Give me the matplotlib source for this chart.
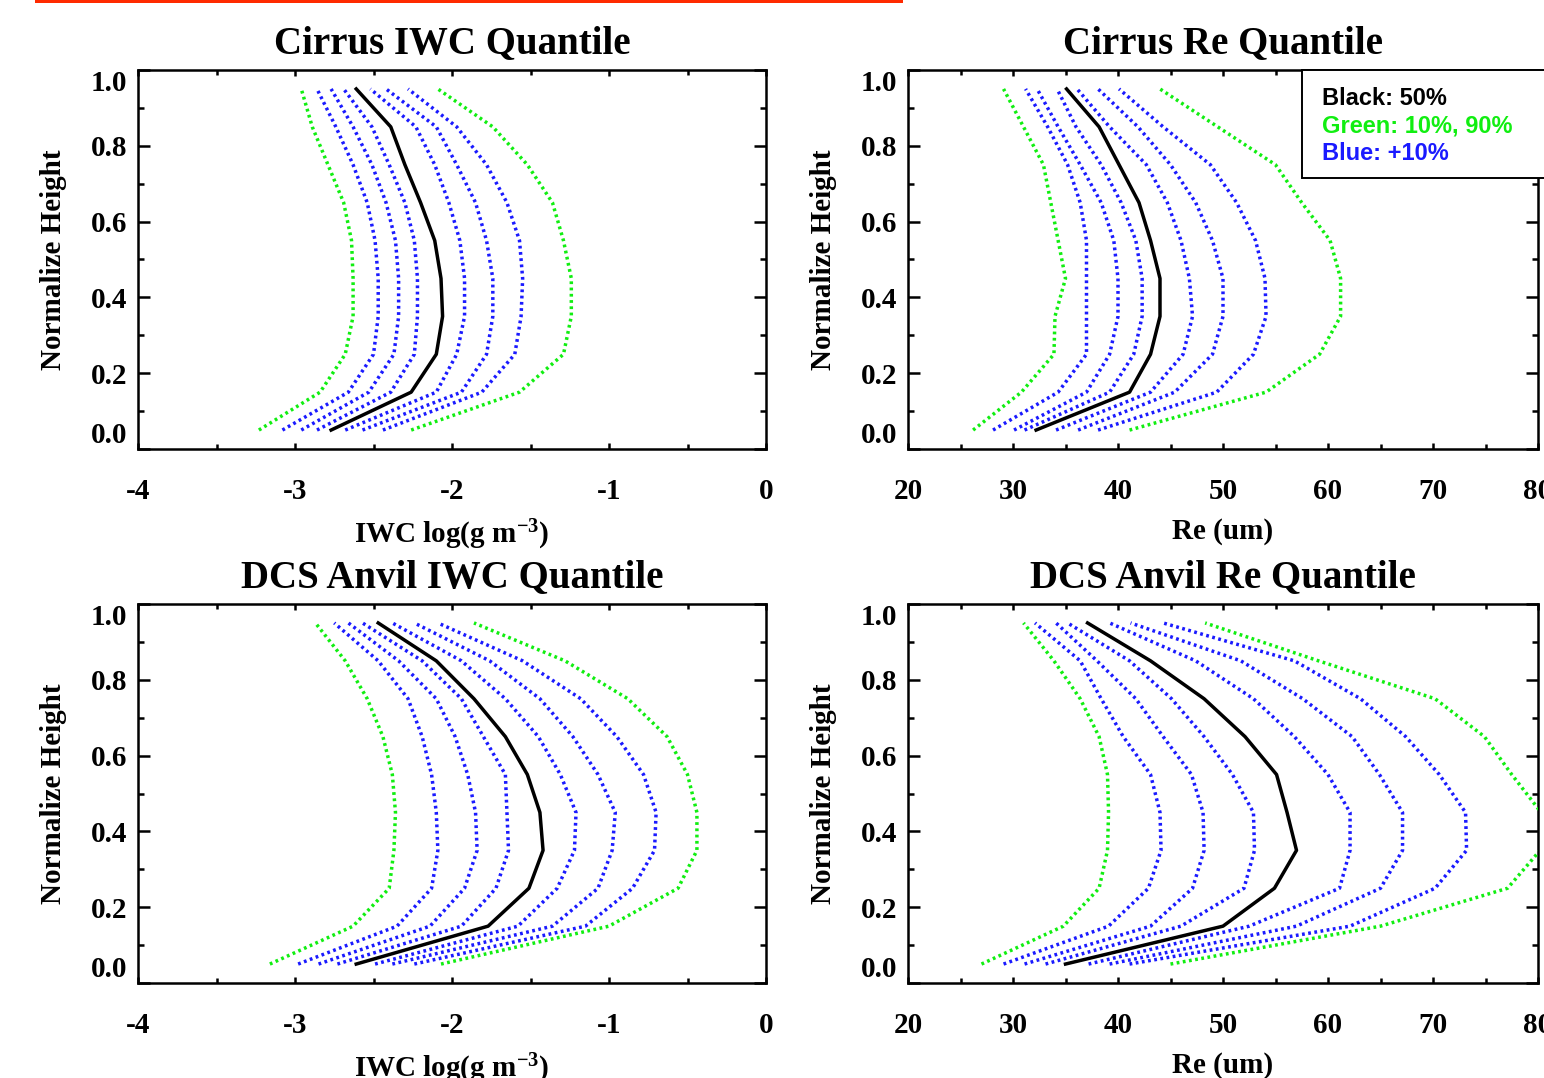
import matplotlib
matplotlib.use("Agg")
from matplotlib import pyplot as plt
from matplotlib.patches import Rectangle
from matplotlib.ticker import MultipleLocator

# normalized height levels (bin centres)
height = [0.05, 0.15, 0.25, 0.35, 0.45, 0.55, 0.65, 0.75, 0.85, 0.95]
quantiles = [10, 20, 30, 40, 50, 60, 70, 80, 90]

# Cirrus IWC, log(g m-3), one row per quantile, bottom -> top
cirrus_iwc = [
    [-3.23, -2.84, -2.68, -2.63, -2.63, -2.64, -2.69, -2.79, -2.89, -2.96],
    [-3.08, -2.66, -2.50, -2.47, -2.47, -2.49, -2.54, -2.63, -2.74, -2.86],
    [-2.96, -2.53, -2.37, -2.34, -2.34, -2.36, -2.42, -2.51, -2.63, -2.77],
    [-2.86, -2.39, -2.24, -2.22, -2.22, -2.24, -2.30, -2.40, -2.51, -2.69],
    [-2.77, -2.26, -2.10, -2.06, -2.07, -2.11, -2.20, -2.30, -2.39, -2.61],
    [-2.68, -2.10, -1.97, -1.92, -1.92, -1.95, -2.02, -2.11, -2.23, -2.52],
    [-2.57, -1.94, -1.78, -1.74, -1.74, -1.78, -1.85, -1.97, -2.10, -2.42],
    [-2.44, -1.81, -1.60, -1.56, -1.55, -1.57, -1.65, -1.78, -1.97, -2.28],
    [-2.26, -1.57, -1.29, -1.24, -1.24, -1.29, -1.36, -1.52, -1.74, -2.09],
]

# Cirrus Re (um)
cirrus_re = [
    [26.2, 30.8, 33.9, 34.0, 35.0, 34.3, 33.6, 32.9, 31.0, 29.1],
    [28.1, 34.3, 37.0, 37.0, 37.0, 37.0, 36.4, 35.2, 33.3, 31.2],
    [30.1, 37.0, 39.2, 40.0, 40.0, 39.6, 38.4, 36.4, 34.3, 32.3],
    [31.1, 39.2, 41.5, 42.3, 42.3, 41.7, 40.3, 38.4, 36.0, 34.2],
    [32.2, 41.1, 43.1, 44.0, 44.0, 43.1, 42.0, 40.1, 38.2, 35.1],
    [34.1, 43.1, 46.2, 47.1, 46.8, 46.0, 44.7, 42.7, 39.2, 36.1],
    [36.2, 45.4, 49.0, 50.0, 50.0, 49.0, 47.4, 45.0, 41.9, 38.1],
    [38.1, 49.4, 52.9, 54.1, 54.0, 53.1, 51.3, 48.8, 44.3, 40.1],
    [41.1, 54.1, 59.2, 61.2, 61.2, 60.2, 57.5, 55.0, 49.5, 44.0],
]

# DCS anvil IWC
anvil_iwc = [
    [-3.16, -2.63, -2.40, -2.37, -2.36, -2.38, -2.44, -2.54, -2.68, -2.87],
    [-2.98, -2.35, -2.13, -2.09, -2.10, -2.13, -2.19, -2.28, -2.47, -2.75],
    [-2.85, -2.14, -1.92, -1.84, -1.85, -1.90, -1.98, -2.10, -2.34, -2.66],
    [-2.73, -1.94, -1.72, -1.64, -1.65, -1.66, -1.80, -1.94, -2.19, -2.57],
    [-2.61, -1.77, -1.51, -1.42, -1.44, -1.52, -1.66, -1.86, -2.10, -2.47],
    [-2.49, -1.58, -1.33, -1.22, -1.21, -1.31, -1.45, -1.66, -1.94, -2.38],
    [-2.38, -1.36, -1.07, -0.98, -0.96, -1.07, -1.23, -1.44, -1.76, -2.24],
    [-2.24, -1.15, -0.85, -0.71, -0.70, -0.78, -0.95, -1.18, -1.55, -2.09],
    [-2.07, -1.00, -0.56, -0.44, -0.44, -0.50, -0.63, -0.88, -1.28, -1.86],
]

# DCS anvil Re (um)
anvil_re = [
    [27.0, 34.8, 38.2, 39.0, 39.1, 39.0, 38.2, 36.4, 33.9, 31.0],
    [29.1, 39.1, 42.9, 44.1, 44.0, 43.1, 40.5, 38.4, 36.4, 32.1],
    [31.1, 43.1, 47.1, 48.2, 48.1, 47.0, 44.3, 41.7, 38.0, 34.1],
    [33.1, 46.0, 52.0, 53.0, 52.9, 50.9, 48.2, 45.1, 41.1, 35.2],
    [35.0, 50.0, 54.9, 57.0, 56.1, 55.1, 52.1, 48.2, 43.1, 37.1],
    [37.2, 52.5, 61.1, 62.1, 62.1, 60.0, 56.8, 52.9, 47.4, 39.2],
    [39.2, 57.0, 65.0, 67.1, 67.1, 64.9, 62.3, 57.6, 51.7, 41.2],
    [41.1, 62.1, 70.2, 73.2, 73.1, 70.6, 67.4, 63.1, 56.8, 44.3],
    [45.0, 65.0, 77.1, 80.2, 80.3, 77.5, 74.9, 70.2, 59.1, 48.3],
]

titles = ["Cirrus IWC Quantile", "Cirrus Re Quantile",
          "DCS Anvil IWC Quantile", "DCS Anvil Re Quantile"]
iwc_label = r"IWC log(g m$^{\mathbf{-3}}$)"
re_label = "Re (um)"

GREEN = "#11ee11"
BLUE = "#1a1aff"

plt.rcParams["font.family"] = "Liberation Serif"
plt.rcParams["font.weight"] = "bold"
plt.rcParams["axes.labelweight"] = "bold"
plt.rcParams["axes.titleweight"] = "bold"
plt.rcParams["mathtext.fontset"] = "custom"
plt.rcParams["mathtext.rm"] = "Liberation Serif:bold"
plt.rcParams["mathtext.bf"] = "Liberation Serif:bold"
plt.rcParams["mathtext.it"] = "Liberation Serif:bold"
plt.rcParams["axes.linewidth"] = 1.8

W, H = 1544, 1078
fig = plt.figure(figsize=(W / 100, H / 100), dpi=100)


def px_axes(left, right, top, bottom):
    return fig.add_axes([left / W, 1 - bottom / H, (right - left) / W, (bottom - top) / H])


panels = [
    (px_axes(138, 766, 70, 449), cirrus_iwc, "iwc", titles[0]),
    (px_axes(908, 1538, 70, 449), cirrus_re, "re", titles[1]),
    (px_axes(138, 766, 604, 983), anvil_iwc, "iwc", titles[2]),
    (px_axes(908, 1538, 604, 983), anvil_re, "re", titles[3]),
]

for ax, series, kind, title in panels:
    for q, xs in zip(quantiles, series):
        if q == 50:
            ax.plot(xs, height, color="black", lw=2.5, zorder=4)
        else:
            color = GREEN if q in (10, 90) else BLUE
            ax.plot(xs, height, color=color, lw=2.5,
                    linestyle=(0, (0.8, 1.0)), zorder=3)

    ax.set_ylim(0, 1)
    ax.yaxis.set_major_locator(MultipleLocator(0.2))
    ax.yaxis.set_minor_locator(MultipleLocator(0.1))
    if kind == "iwc":
        ax.set_xlim(-4, 0)
        ax.xaxis.set_major_locator(MultipleLocator(1))
        ax.xaxis.set_minor_locator(MultipleLocator(0.5))
        ax.set_xticks([-4, -3, -2, -1, 0])
        ax.set_xticklabels(["-4", "-3", "-2", "-1", "0"])
        ax.set_xlabel(iwc_label, fontsize=21, labelpad=9)
    else:
        ax.set_xlim(20, 80)
        ax.xaxis.set_major_locator(MultipleLocator(10))
        ax.xaxis.set_minor_locator(MultipleLocator(5))
        ax.set_xlabel(re_label, fontsize=21, labelpad=9)
    ax.set_yticks([0, 0.2, 0.4, 0.6, 0.8, 1.0])
    ax.set_yticklabels(["0.0", "0.2", "0.4", "0.6", "0.8", "1.0"])
    labels = ax.get_yticklabels()
    labels[0].set_verticalalignment("bottom")
    labels[-1].set_verticalalignment("top")

    ax.tick_params(which="both", direction="in", top=True, right=True,
                   width=1.8, labelsize=21)
    ax.tick_params(axis="x", which="major", length=4, pad=21)
    ax.tick_params(axis="x", which="minor", length=3.5)
    ax.tick_params(axis="y", which="major", length=8.3, pad=8)
    ax.tick_params(axis="y", which="minor", length=4.3)

    ax.set_ylabel("Normalize Height", fontsize=21, labelpad=17)
    ax.set_title(title, fontsize=28, fontweight="bold", pad=12)

# red rule along the top edge
fig.add_artist(Rectangle((35 / W, 1 - 3 / H), 868 / W, 3 / H,
                         transform=fig.transFigure, color="#ff2a00", lw=0))

# colour key box (runs off the right edge)
fig.add_artist(Rectangle((1302 / W, 1 - 178 / H), 300 / W, 108 / H,
                         transform=fig.transFigure, facecolor="white",
                         edgecolor="black", lw=1.4, zorder=5))
key = [("Black: 50%", "black", 105), ("Green: 10%, 90%", GREEN, 132),
       ("Blue: +10%", BLUE, 160)]
for text, color, base in key:
    fig.text(1322 / W, 1 - base / H, text, color=color, fontsize=17,
             family="Liberation Sans", fontweight="bold", va="baseline",
             zorder=6)

fig.savefig("out.png", dpi=100)
